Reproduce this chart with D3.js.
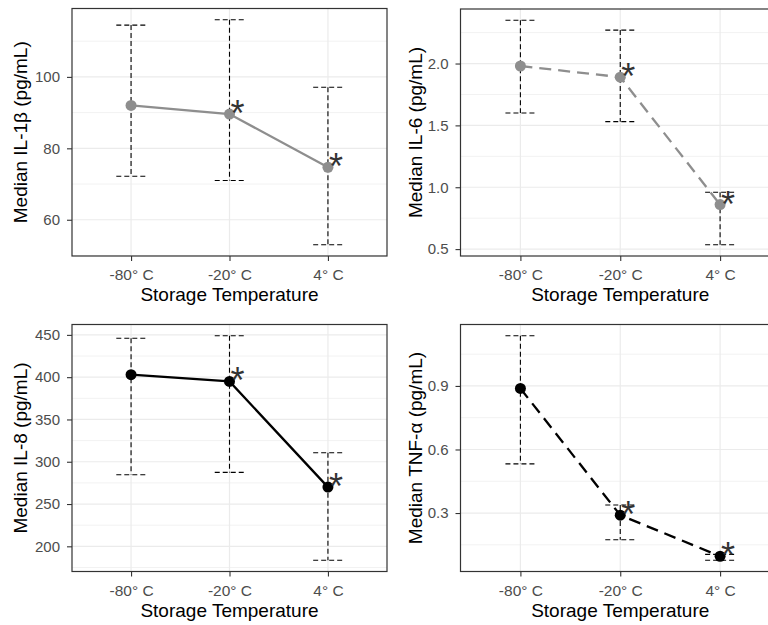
<!DOCTYPE html>
<html><head><meta charset="utf-8">
<script src="https://cdn.jsdelivr.net/npm/d3@7"></script>
<style>body{margin:0;background:#fff}svg{display:block}text{font-family:"Liberation Sans",Arial,sans-serif}</style>
</head><body><svg id="c" width="768" height="625"></svg>
<script>
const categories = ["-80° C", "-20° C", "4° C"];
const xTitle = "Storage Temperature";
const significant = [false, true, true];

const il1bMedian = [92.0, 89.6, 74.7];
const il1bLower  = [72.2, 71.0, 53.0];
const il1bUpper  = [114.5, 116.0, 97.1];
const il1bTicks  = [60, 80, 100];
const il1bMinor  = [50, 70, 90, 110];

const il6Median = [1.98, 1.89, 0.86];
const il6Lower  = [1.60, 1.53, 0.535];
const il6Upper  = [2.35, 2.27, 0.96];
const il6Ticks  = [0.5, 1.0, 1.5, 2.0];
const il6Minor  = [0.75, 1.25, 1.75, 2.25];

const il8Median = [403, 395, 270];
const il8Lower  = [284.6, 287.4, 183.5];
const il8Upper  = [446, 449, 310.6];
const il8Ticks  = [200, 250, 300, 350, 400, 450];
const il8Minor  = [175, 225, 275, 325, 375, 425, 475];

const tnfMedian = [0.888, 0.290, 0.096];
const tnfLower  = [0.532, 0.174, 0.077];
const tnfUpper  = [1.137, 0.338, 0.105];
const tnfTicks  = [0.3, 0.6, 0.9];
const tnfMinor  = [0.15, 0.45, 0.75, 1.05];

const panels = [
  {title:"Median IL-1β (pg/mL)", med:il1bMedian, lo:il1bLower, hi:il1bUpper, ticks:il1bTicks, minor:il1bMinor, fmt:d3.format("d"),
   box:[72,8.5,387,256], tx:27, color:"#8e8e8e", dash:null},
  {title:"Median IL-6 (pg/mL)", med:il6Median, lo:il6Lower, hi:il6Upper, ticks:il6Ticks, minor:il6Minor, fmt:d3.format(".1f"),
   box:[460.5,9,780,256], tx:422, color:"#8e8e8e", dash:"12,7"},
  {title:"Median IL-8 (pg/mL)", med:il8Median, lo:il8Lower, hi:il8Upper, ticks:il8Ticks, minor:il8Minor, fmt:d3.format("d"),
   box:[72,324.5,387,571.5], tx:27, color:"#000", dash:null},
  {title:"Median TNF-α (pg/mL)", med:tnfMedian, lo:tnfLower, hi:tnfUpper, ticks:tnfTicks, minor:tnfMinor, fmt:d3.format(".1f"),
   box:[460.5,324.5,780,571.5], tx:422, color:"#000", dash:"12,7"}
];

const svg = d3.select("#c");
const FONT = "Liberation Sans, Arial, sans-serif";

panels.forEach(p => {
  const [x0,y0,x1,y1] = p.box;
  const lo = d3.min(p.lo), hi = d3.max(p.hi), r = hi - lo;
  const y = d3.scaleLinear().domain([lo - 0.05*r, hi + 0.05*r]).range([y1, y0]);
  const x = d3.scalePoint().domain(categories).range([x0, x1]).padding(0.6);
  const g = svg.append("g");

  // grid
  g.selectAll(".mn").data(p.minor.filter(v => y(v) > y0 && y(v) < y1)).join("line")
    .attr("x1", x0).attr("x2", x1).attr("y1", d => y(d)).attr("y2", d => y(d))
    .attr("stroke", "#f2f2f2").attr("stroke-width", 1);
  g.selectAll(".mj").data(p.ticks).join("line")
    .attr("x1", x0).attr("x2", x1).attr("y1", d => y(d)).attr("y2", d => y(d))
    .attr("stroke", "#ebebeb").attr("stroke-width", 1.2);
  g.selectAll(".vx").data(categories).join("line")
    .attr("x1", d => x(d)).attr("x2", d => x(d)).attr("y1", y0).attr("y2", y1)
    .attr("stroke", "#ebebeb").attr("stroke-width", 1.2);

  // error bars
  const cw = x.step() * 0.15;
  categories.forEach((c, i) => {
    const cx = x(c);
    g.append("line").attr("x1", cx).attr("x2", cx).attr("y1", y(p.hi[i])).attr("y2", y(p.lo[i]))
      .attr("stroke", "#000").attr("stroke-width", 1.1).attr("stroke-dasharray", "5,3");
    [p.hi[i], p.lo[i]].forEach(v => {
      g.append("line").attr("x1", cx - cw).attr("x2", cx + cw).attr("y1", y(v)).attr("y2", y(v))
        .attr("stroke", "#000").attr("stroke-width", 1.1).attr("stroke-dasharray", "5,3");
    });
  });

  // line
  const line = d3.line().x((d,i) => x(categories[i])).y(d => y(d));
  g.append("path").attr("d", line(p.med)).attr("fill", "none").attr("stroke", p.color)
    .attr("stroke-width", 2.3).attr("stroke-dasharray", p.dash);
  g.selectAll(".pt").data(p.med).join("circle")
    .attr("cx", (d,i) => x(categories[i])).attr("cy", d => y(d)).attr("r", 5.5).attr("fill", p.color);

  // asterisks
  p.med.forEach((v, i) => {
    if (!significant[i]) return;
    g.append("text").attr("x", x(categories[i]) + 8).attr("y", y(v) - 9 + 21)
      .attr("text-anchor", "middle").attr("font-size", 36).attr("fill", "#333").text("*");
  });

  // border
  g.append("rect").attr("x", x0).attr("y", y0).attr("width", x1 - x0).attr("height", y1 - y0)
    .attr("fill", "none").attr("stroke", "#333").attr("stroke-width", 1.2);

  // y axis
  const ya = g.append("g").attr("transform", `translate(${x0},0)`)
    .call(d3.axisLeft(y).tickValues(p.ticks).tickFormat(p.fmt).tickSize(5).tickPadding(7));
  ya.select(".domain").remove();
  ya.selectAll("line").attr("stroke", "#333").attr("stroke-width", 1.1);
  ya.selectAll("text").attr("fill", "#4d4d4d").attr("font-size", 15).style("font-family", FONT);

  // x axis
  const xa = g.append("g").attr("transform", `translate(0,${y1})`)
    .call(d3.axisBottom(x).tickSize(5).tickPadding(8));
  xa.select(".domain").remove();
  xa.selectAll("line").attr("stroke", "#333").attr("stroke-width", 1.1);
  xa.selectAll("text").attr("fill", "#4d4d4d").attr("font-size", 15.5).style("font-family", FONT);

  // titles
  g.append("text").attr("x", x(categories[1])).attr("y", y1 + 45)
    .attr("text-anchor", "middle").attr("font-size", 19).attr("fill", "#000").text(xTitle);
  g.append("text").attr("transform", `translate(${p.tx},${(y0+y1)/2}) rotate(-90)`)
    .attr("text-anchor", "middle").attr("font-size", 19).attr("fill", "#000").text(p.title);
});
</script></body></html>
